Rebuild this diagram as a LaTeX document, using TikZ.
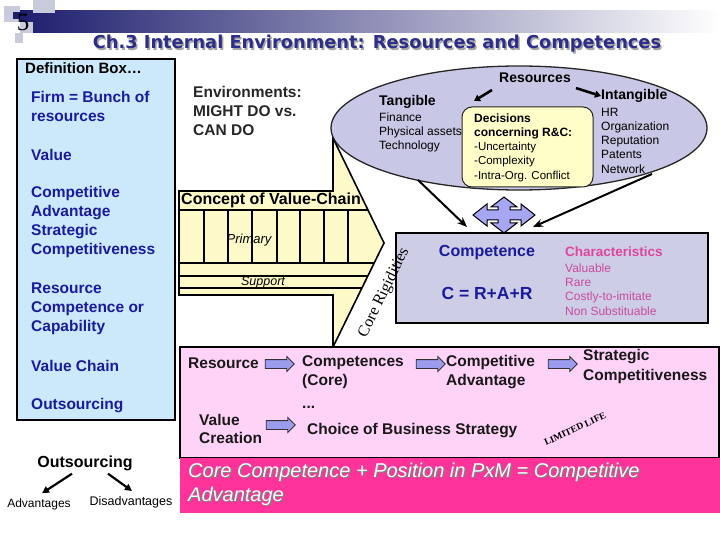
\documentclass[tikz,border=0pt]{standalone}
\usepackage{fontspec}
\setmainfont{Liberation Sans}
\newfontfamily\titlefont{DejaVu Sans}
\newfontfamily\timesfont{Liberation Serif}
\usetikzlibrary{shapes.geometric,shapes.arrows,arrows.meta}

\definecolor{navy}{HTML}{1E1E6E}
\definecolor{squaregray}{HTML}{C9CBDD}
\definecolor{titleblue}{HTML}{2E2E8A}
\definecolor{defblue}{HTML}{CCE8FB}
\definecolor{termblue}{HTML}{1A1A9C}
\definecolor{chainyellow}{HTML}{FDF9C8}
\definecolor{reslilac}{HTML}{C8C8E6}
\definecolor{decyellow}{HTML}{FFFDC8}
\definecolor{crossblue}{HTML}{A6A6F2}
\definecolor{compblue}{HTML}{CDCDE6}
\definecolor{charpink}{HTML}{E0459E}
\definecolor{listpink}{HTML}{C94A9E}
\definecolor{pathpink}{HTML}{FFD3F8}
\definecolor{barmagenta}{HTML}{FF3399}
\definecolor{arrowblue}{HTML}{9C9CEE}

\newcommand{\fsz}[2]{\fontsize{#1}{#2}\selectfont}

\begin{document}
\begin{tikzpicture}[x=1pt,y=-1pt]
  \tikzset{
    term/.style={anchor=west, inner sep=0pt, align=left, text=termblue,
      font=\bfseries\fsz{15.5}{19}},
    pathword/.style={anchor=west, inner sep=0pt, align=left, text=black!90,
      font=\bfseries\fsz{15.5}{19}},
    small/.style={anchor=west, inner sep=0pt, align=left,
      font=\fsz{12}{14.3}},
    blockarr/.style={single arrow, draw=black!80, line width=0.8pt,
      fill=arrowblue, inner xsep=0pt, inner ysep=4pt,
      minimum height=29pt, single arrow head extend=3pt},
    chainline/.style={line width=1.4pt},
    bigarrow/.style={line width=2pt, -{Stealth[length=10pt,width=8pt]}},
    resarrow/.style={line width=2.6pt, -{Triangle[length=6pt,width=7pt]}},
    outarrow/.style={line width=2.2pt, -{Triangle[length=7pt,width=7pt]}}
  }
  \useasboundingbox (0,0) rectangle (720,540);

  % banner
  \shade[left color=navy, right color=white] (20,11) rectangle (720,33);
  \fill[squaregray] (4,6) rectangle (20,22);
  \fill[squaregray] (33,0) rectangle (55,13);
  \fill[squaregray] (20,22) rectangle (33,33);
  \fill[squaregray] (15,33) rectangle (23,43);
  \fill[navy] (13,12) rectangle (21,19);
  \node[font=\timesfont\fsz{25}{25}] (pagenum) at (23,22) {5};
  \node[text=black!35, font=\titlefont\bfseries\fsz{17.8}{17.8}] (titleshadow) at (378.5,45.5)
    {Ch.3 Internal Environment: Resources and Competences};
  \node[text=titleblue, font=\titlefont\bfseries\fsz{17.8}{17.8}] (title) at (377,44)
    {Ch.3 Internal Environment: Resources and Competences};

  % definition box
  \draw[line width=2pt, fill=defblue] (17,59) rectangle (175,420);
  \node[anchor=west, inner sep=0pt, font=\bfseries\fsz{15}{15}] (defhead) at (25,68) {Definition Box…};
  \node[term] (deffirm) at (31,106.5) {Firm = Bunch of\\resources};
  \node[term] (defvalue) at (31,155) {Value};
  \node[term] (defcomp) at (31,222) {Competitive\\Advantage\\Strategic\\Competitiveness};
  \node[term] (defres) at (31,308.5) {Resource\\Competence or\\Capability};
  \node[term] (defchain) at (31,366) {Value Chain};
  \node[term] (defouts) at (31,406) {Outsourcing};

  \node[term, text=black!85] (environ) at (193,111) {Environments:\\MIGHT DO vs.\\CAN DO};

  % value chain
  \draw[line width=1.6pt, fill=chainyellow] (179,191) -- (333,191) -- (333,138)
    -- (384,243) -- (333,347) -- (333,295) -- (179,295) -- cycle;
  \draw[chainline] (179,210) -- (368,210);
  \draw[chainline] (179,263) -- (374,263);
  \draw[chainline] (179,276) -- (368,276);
  \draw[chainline] (179,288) -- (362,288);
  \foreach \x in {204,228,252,277,300,324,348}
    \draw[chainline] (\x,210) -- (\x,263);
  \node[anchor=west, inner sep=0pt, font=\bfseries\fsz{16}{16}] (chainhead) at (181,200) {Concept of Value-Chain};
  \node[inner sep=0pt, font=\itshape\fsz{13}{13}] (primary) at (249,240) {Primary};
  \node[inner sep=0pt, font=\itshape\fsz{12.5}{12.5}] (support) at (263,282) {Support};

  % path to competitive advantage
  \draw[line width=1.3pt, fill=pathpink] (180,347) rectangle (719,458);
  \fill[barmagenta] (180,458) rectangle (720,513);
  \node[pathword] (pres) at (188,363) {Resource};
  \node[blockarr] (arrone) at (277.5,364) {};
  \node[pathword] (pcomp) at (302,372.5) {Competences\\(Core)};
  \node[blockarr] (arrtwo) at (428.5,364) {};
  \node[pathword] (padv) at (446,372.5) {Competitive\\Advantage};
  \node[blockarr] (arrthree) at (560.5,364) {};
  \node[pathword, font=\bfseries\fsz{15.5}{20}] (pstrat) at (583,366) {Strategic\\Competitiveness};
  \node[pathword] (pdots) at (302,407) {...};
  \node[pathword, font=\bfseries\fsz{15.5}{18}] (pvalue) at (199,429) {Value\\Creation};
  \node[blockarr] (arrfour) at (278.5,425) {};
  \node[pathword] (pchoice) at (307,431) {Choice of Business Strategy};
  \node[rotate=25, inner sep=0pt, font=\timesfont\bfseries\fsz{9.5}{9.5}] (plife) at (575,429) {LIMITED LIFE};
  \node[anchor=west, inner sep=0pt, align=left, text=black!50, font=\itshape\fsz{20}{24}] (coreshadow) at (189.5,485.5)
    {Core Competence + Position in PxM = Competitive\\Advantage};
  \node[anchor=west, inner sep=0pt, align=left, text=white, font=\itshape\fsz{20}{24}] (corecomp) at (188,484)
    {Core Competence + Position in PxM = Competitive\\Advantage};

  % resources
  \node[ellipse, draw=black!85, line width=1.3pt, fill=reslilac, inner sep=0pt,
    minimum width=376pt, minimum height=124pt] (resell) at (519,128) {};
  \node[draw=black!85, line width=1pt, fill=decyellow, rounded corners=10pt,
    minimum width=131pt, minimum height=80pt] (decbox) at (527.5,147) {};
  \node[small, font=\fsz{11.5}{14.25}] (dectext) at (474,147.5)
    {{\bfseries\fsz{12}{14.25}Decisions}\\{\bfseries\fsz{12}{14.25}concerning R\&C:}\\-Uncertainty\\-Complexity\\-Intra-Org. Conflict};
  \node[inner sep=0pt, font=\bfseries\fsz{14}{14}] (res) at (535,78) {Resources};
  \node[anchor=west, inner sep=0pt, font=\bfseries\fsz{14}{14}] (tang) at (379,102) {Tangible};
  \node[small] (tanglist) at (379,132.5) {Finance\\Physical assets\\Technology};
  \node[anchor=west, inner sep=0pt, font=\bfseries\fsz{14}{14}] (intang) at (601,96) {Intangible};
  \node[small, font=\fsz{12}{14.25}] (intanglist) at (601,140.5) {HR\\Organization\\Reputation\\Patents\\Network};
  \coordinate (tangtip) at (474,101);
  \draw[resarrow] ([shift={(-7,12)}]res.west) -- (tangtip);
  \draw[resarrow] ([shift={(5,5)}]res.south east) -- (intang.west);

  % cross arrow
  \draw[line width=1pt, fill=crossblue, shift={(504,215)}]
    (31,0) -- (17,-11) -- (17,-5) -- (6,-5) -- (6,-8) -- (13,-8) -- (0,-18)
    -- (-13,-8) -- (-6,-8) -- (-6,-5) -- (-17,-5) -- (-17,-11) -- (-31,0)
    -- (-17,11) -- (-17,5) -- (-6,5) -- (-6,8) -- (-13,8) -- (0,18)
    -- (13,8) -- (6,8) -- (6,5) -- (17,5) -- (17,11) -- cycle;

  % competence
  \coordinate (ellleft) at (418,180);
  \coordinate (ellright) at (652,174);
  \coordinate (compleft) at (467,227);
  \coordinate (compright) at (533,227);
  \draw[bigarrow] (ellleft) -- (compleft);
  \draw[bigarrow] (ellright) -- (compright);
  \node[draw, line width=1.5pt, fill=compblue, inner sep=0pt,
    minimum width=312pt, minimum height=90pt] (compbox) at (552,278) {};
  \node[inner sep=0pt, text=termblue, font=\bfseries\fsz{16}{16}] (comp) at (487,253) {Competence};
  \node[inner sep=0pt, text=termblue, font=\bfseries\fsz{17.5}{17.5}] (cformula) at (487,293) {C = R+A+R};
  \node[anchor=west, inner sep=0pt, text=charpink, font=\bfseries\fsz{13.5}{13.5}] (chars) at (565,252) {Characteristics};
  \node[small, text=listpink] (charlist) at (565,289.5) {Valuable\\Rare\\Costly-to-imitate\\Non Substituable};
  \node[rotate=64, inner sep=0pt, font=\timesfont\fsz{16}{16}] (rigid) at (384,293) {Core Rigidities};

  % outsourcing
  \node[inner sep=0pt, font=\bfseries\fsz{16}{16}] (outs) at (85,463) {Outsourcing};
  \node[inner sep=0pt, font=\fsz{12}{12}] (adv) at (39,504) {Advantages};
  \node[inner sep=0pt, font=\fsz{12.5}{12.5}] (disadv) at (131,502) {Disadvantages};
  \draw[outarrow] ([shift={(-13,3)}]outs.south) -- ([shift={(3,-5)}]adv.north);
  \draw[outarrow] ([shift={(23,3)}]outs.south) -- ([shift={(1,-5)}]disadv.north);
\end{tikzpicture}
\end{document}
